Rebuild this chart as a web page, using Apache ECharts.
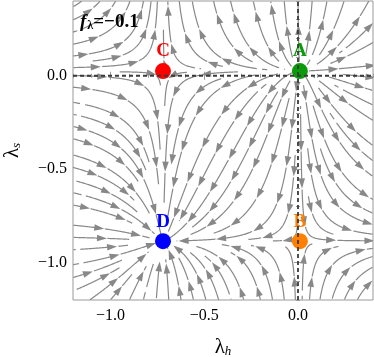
<!DOCTYPE html>
<html>
<head>
<meta charset="utf-8">
<script src="https://cdn.jsdelivr.net/npm/echarts@6/dist/echarts.min.js"></script>
<style>
  html, body { margin: 0; padding: 0; background: #fff; }
  #chart { width: 374px; height: 357px; }
</style>
</head>
<body>
<div id="chart"></div>
<script>
// axis ranges and ticks
var xRange = [-1.2, 0.4];
var yRange = [-1.2, 0.4];
var majorTicks = [-1.0, -0.5, 0.0];
var minorTicks = [-1.2, -1.1, -1.0, -0.9, -0.8, -0.7, -0.6, -0.5, -0.4, -0.3, -0.2, -0.1, 0.0, 0.1, 0.2, 0.3, 0.4];

// fixed points of the flow
var pointNames = ['A', 'B', 'C', 'D'];
var pointX = [0.01, 0.01, -0.72, -0.72];
var pointY = [0.025, -0.885, 0.025, -0.885];
var pointColors = ['#0a9a0a', '#ff8000', '#ff0000', '#0000ff'];

// dashed reference lines
var dashX = 0.0;
var dashY = 0.0;

var serif = 'Liberation Serif';

// flow direction: zero at the fixed points above
// x: zero at A/B and C/D columns, y: zero at A/C and B/D rows
function field(x, y) {
    var vx = (x - pointX[0]) * (x - pointX[2]);
    var vy = (y - pointY[0]) * (y - pointY[1]) * (1 + 0.5 * (x - pointX[2]));
    return [vx, vy];
}

// --- evenly spaced streamlines ---
var DSEP = 0.064, DTEST = 0.032, STEP = 0.004, MAXSTEPS = 2500;
var occ = {};
function cellKey(x, y) {
    return Math.floor((x + 2) / DSEP) + '_' + Math.floor((y + 2) / DSEP);
}
function addPoint(x, y) {
    var k = cellKey(x, y);
    (occ[k] = occ[k] || []).push([x, y]);
}
function tooClose(x, y, d) {
    var ci = Math.floor((x + 2) / DSEP), cj = Math.floor((y + 2) / DSEP);
    for (var a = -1; a <= 1; a++) {
        for (var b = -1; b <= 1; b++) {
            var list = occ[(ci + a) + '_' + (cj + b)];
            if (!list) continue;
            for (var i = 0; i < list.length; i++) {
                var dx = list[i][0] - x, dy = list[i][1] - y;
                if (dx * dx + dy * dy < d * d) return true;
            }
        }
    }
    return false;
}
function dir(x, y) {
    var v = field(x, y);
    var m = Math.sqrt(v[0] * v[0] + v[1] * v[1]);
    if (m < 1e-7) return null;
    return [v[0] / m, v[1] / m];
}
function inside(x, y) {
    return x >= xRange[0] && x <= xRange[1] && y >= yRange[0] && y <= yRange[1];
}
function nearFixed(x, y) {
    for (var i = 0; i < pointX.length; i++) {
        var dx = x - pointX[i], dy = y - pointY[i];
        if (dx * dx + dy * dy < 0.02 * 0.02) return true;
    }
    return false;
}
function trace(x0, y0, sgn) {
    var pts = [];
    var x = x0, y = y0;
    for (var n = 0; n < MAXSTEPS; n++) {
        var d1 = dir(x, y);
        if (!d1) break;
        var d2 = dir(x + sgn * d1[0] * STEP / 2, y + sgn * d1[1] * STEP / 2);
        if (!d2) break;
        if (d1[0] * d2[0] + d1[1] * d2[1] < 0.5) break;
        var nx = x + sgn * d2[0] * STEP, ny = y + sgn * d2[1] * STEP;
        if (!inside(nx, ny)) break;
        if (tooClose(nx, ny, DTEST)) break;
        if (nearFixed(nx, ny)) break;
        x = nx; y = ny;
        pts.push([x, y]);
    }
    return pts;
}

var streamlines = [];
var queue = [[-0.36, -0.43]];
function tryLine(sx, sy) {
    if (!inside(sx, sy) || tooClose(sx, sy, DSEP * 0.98) || nearFixed(sx, sy)) return;
    var back = trace(sx, sy, -1).reverse();
    var fwd = trace(sx, sy, 1);
    var line = back.concat([[sx, sy]], fwd);
    if (line.length < 8) return;
    line.forEach(function (p) { addPoint(p[0], p[1]); });
    streamlines.push(line);
    for (var i = 5; i < line.length - 1; i += 6) {
        var p = line[i], q = line[i + 1];
        var tx = q[0] - p[0], ty = q[1] - p[1];
        var m = Math.sqrt(tx * tx + ty * ty) || 1;
        queue.push([p[0] - ty / m * DSEP, p[1] + tx / m * DSEP]);
        queue.push([p[0] + ty / m * DSEP, p[1] - tx / m * DSEP]);
    }
}
while (queue.length) {
    var s = queue.shift();
    tryLine(s[0], s[1]);
}
for (var gx = xRange[0] + 0.02; gx < xRange[1]; gx += DSEP / 2) {
    for (var gy = yRange[0] + 0.02; gy < yRange[1]; gy += DSEP / 2) {
        tryLine(gx, gy);
        while (queue.length) { var q2 = queue.shift(); tryLine(q2[0], q2[1]); }
    }
}

// cut each streamline into arrowed pieces
var PIECE = 0.18, GAP = 0.022;
var pieces = [];
streamlines.forEach(function (line, li) {
    var period = PIECE + GAP;
    var s = ((li * 0.618) % 1) * period;
    var cur = [];
    var acc = s;
    for (var i = 0; i < line.length; i++) {
        if (i > 0) {
            var dx = line[i][0] - line[i - 1][0], dy = line[i][1] - line[i - 1][1];
            acc += Math.sqrt(dx * dx + dy * dy);
        }
        var phase = acc % period;
        if (phase < PIECE) {
            cur.push(line[i]);
        } else if (cur.length) {
            pieces.push({ pts: cur, arrow: cur.length > 12 });
            cur = [];
        }
    }
    if (cur.length > 1) pieces.push({ pts: cur, arrow: false });
});

var chart = echarts.init(document.getElementById('chart'));

function fmt(v) {
    return (v < 0 ? '\u2212' : '') + Math.abs(v).toFixed(1);
}

function xAxisDef(pos, ticks, len, labels) {
    return {
        type: 'value', min: xRange[0], max: xRange[1], position: pos,
        axisLine: { show: false }, splitLine: { show: false },
        axisTick: { show: true, inside: true, length: len, customValues: ticks, lineStyle: { color: '#999', width: 1 } },
        axisLabel: labels ? { customValues: majorTicks, formatter: fmt, fontFamily: serif, fontSize: 16, color: '#000', margin: 8 } : { show: false }
    };
}
function yAxisDef(pos, ticks, len, labels) {
    return {
        type: 'value', min: yRange[0], max: yRange[1], position: pos,
        axisLine: { show: false }, splitLine: { show: false },
        axisTick: { show: true, inside: true, length: len, customValues: ticks, lineStyle: { color: '#999', width: 1 } },
        axisLabel: labels ? { customValues: majorTicks, formatter: fmt, fontFamily: serif, fontSize: 16, color: '#000', margin: 6 } : { show: false }
    };
}

var xAxes = [
    xAxisDef('bottom', majorTicks, 4, true),
    xAxisDef('bottom', minorTicks, 2, false),
    xAxisDef('top', majorTicks, 4, false),
    xAxisDef('top', minorTicks, 2, false)
];
xAxes[0].name = '{l|\u03bb}{s|h}';
xAxes[0].nameLocation = 'middle';
xAxes[0].nameGap = 37;
xAxes[0].nameTextStyle = {
    rich: {
        l: { fontFamily: serif, fontSize: 21, color: '#000' },
        s: { fontFamily: serif, fontSize: 13, fontStyle: 'italic', color: '#000', padding: [8, 0, 0, 0] }
    }
};
var yAxes = [
    yAxisDef('left', majorTicks, 4, true),
    yAxisDef('left', minorTicks, 2, false),
    yAxisDef('right', majorTicks, 4, false),
    yAxisDef('right', minorTicks, 2, false)
];
yAxes[0].name = '{l|\u03bb}{s|s}';
yAxes[0].nameLocation = 'middle';
yAxes[0].nameGap = 50;
yAxes[0].nameTextStyle = {
    rich: {
        l: { fontFamily: serif, fontSize: 21, color: '#000' },
        s: { fontFamily: serif, fontSize: 13, fontStyle: 'italic', color: '#000', padding: [8, 0, 0, 0] }
    }
};

chart.setOption({
    animation: false,
    grid: { left: 73, top: 1, width: 300, height: 299, show: true, borderColor: '#999', borderWidth: 1, outerBoundsMode: 'none', containLabel: false },
    xAxis: xAxes,
    yAxis: yAxes,
    graphic: [{
        type: 'text', left: 80, top: 13, z: 100,
        style: {
            text: '{f|f}{s|\u03bb}{t|=\u22120.1}',
            rich: {
                f: { fontFamily: serif, fontSize: 19, fontStyle: 'italic', fontWeight: 'bold', fill: '#000' },
                s: { fontFamily: serif, fontSize: 12, fontWeight: 'bold', fill: '#000', padding: [7, 0, 0, 1] },
                t: { fontFamily: serif, fontSize: 19, fontWeight: 'bold', fill: '#000' }
            }
        }
    }],
    series: [
        {
            type: 'custom',
            coordinateSystem: 'cartesian2d',
            silent: true,
            clip: true,
            z: 2,
            data: pieces.map(function (p, i) { return [i]; }),
            renderItem: function (params, api) {
                var pc = pieces[api.value(0)];
                var pts = pc.pts.map(function (p) { return api.coord(p); });
                var children = [{
                    type: 'polyline',
                    shape: { points: pts },
                    style: { stroke: '#888', lineWidth: 1.2, fill: null }
                }];
                if (pc.arrow) {
                    var e = pts[pts.length - 1], b = pts[pts.length - 5];
                    var dx = e[0] - b[0], dy = e[1] - b[1];
                    var m = Math.sqrt(dx * dx + dy * dy) || 1;
                    dx /= m; dy /= m;
                    var tip = [e[0] + dx * 4, e[1] + dy * 4];
                    var base = [e[0] - dx * 6, e[1] - dy * 6];
                    children.push({
                        type: 'polygon',
                        shape: { points: [tip, [base[0] - dy * 3.3, base[1] + dx * 3.3], [base[0] + dy * 3.3, base[1] - dx * 3.3]] },
                        style: { fill: '#888' }
                    });
                }
                return { type: 'group', children: children };
            }
        },
        {
            type: 'scatter',
            z: 5,
            symbolSize: 16,
            itemStyle: { opacity: 1 },
            data: pointNames.map(function (n, i) {
                return {
                    name: n, value: [pointX[i], pointY[i]],
                    itemStyle: { color: pointColors[i], opacity: 1 },
                    label: {
                        show: true, position: 'top', distance: 2, formatter: n,
                        color: pointColors[i], fontFamily: serif, fontWeight: 'bold', fontSize: 19
                    }
                };
            })
        },
        {
            type: 'line', z: 6, silent: true, showSymbol: false,
            data: [[xRange[0], dashY], [xRange[1], dashY]],
            lineStyle: { color: '#3a3a3a', width: 1.8, type: [4, 3] }
        },
        {
            type: 'line', z: 6, silent: true, showSymbol: false,
            data: [[dashX, yRange[0]], [dashX, yRange[1]]],
            lineStyle: { color: '#3a3a3a', width: 1.8, type: [4, 3] }
        }
    ]
});
</script>
</body>
</html>
